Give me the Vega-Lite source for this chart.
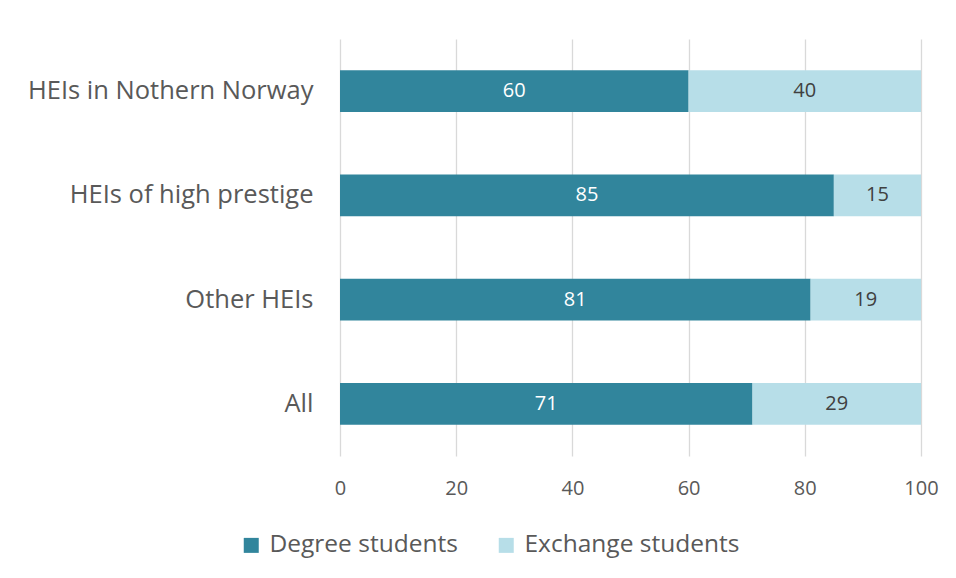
{
  "$schema": "https://vega.github.io/schema/vega-lite/v6.json",
  "width": 581,
  "height": 417,
  "autosize": {"type": "none"},
  "padding": {"left": 340, "top": 39, "right": 35, "bottom": 122},
  "background": "white",
  "config": {
    "font": "Open Sans",
    "view": {"stroke": null},
    "axis": {"labelColor": "#595959", "labelFont": "Open Sans"},
    "legend": {"labelColor": "#595959", "labelFont": "Open Sans"}
  },
  "data": {
    "values": [
      {"group": "HEIs in Nothern Norway", "type": "Degree students", "value": 60},
      {"group": "HEIs in Nothern Norway", "type": "Exchange students", "value": 40},
      {"group": "HEIs of high prestige", "type": "Degree students", "value": 85},
      {"group": "HEIs of high prestige", "type": "Exchange students", "value": 15},
      {"group": "Other  HEIs", "type": "Degree students", "value": 81},
      {"group": "Other  HEIs", "type": "Exchange students", "value": 19},
      {"group": "All", "type": "Degree students", "value": 71},
      {"group": "All", "type": "Exchange students", "value": 29}
    ]
  },
  "transform": [
    {"stack": "value", "groupby": ["group"], "sort": [{"field": "type", "order": "ascending"}], "as": ["v0", "v1"]},
    {"calculate": "(datum.v0 + datum.v1) / 2", "as": "mid"}
  ],
  "encoding": {
    "y": {
      "field": "group",
      "type": "nominal",
      "sort": ["HEIs in Nothern Norway", "HEIs of high prestige", "Other  HEIs", "All"],
      "scale": {"paddingInner": 0.6, "paddingOuter": 0.3},
      "axis": {"title": null, "ticks": false, "domain": false, "labelFontSize": 25.5, "labelPadding": 27, "labelLimit": 400}
    }
  },
  "layer": [
    {
      "mark": {"type": "bar"},
      "encoding": {
        "x": {
          "field": "v0",
          "type": "quantitative",
          "scale": {"domain": [0, 100], "nice": false},
          "axis": {"title": null, "values": [0, 20, 40, 60, 80, 100], "grid": true, "gridColor": "#D9D9D9", "gridWidth": 1.3, "ticks": false, "domain": false, "labelFontSize": 20, "labelPadding": 22, "labelFlush": false}
        },
        "x2": {"field": "v1"},
        "color": {
          "field": "type",
          "type": "nominal",
          "scale": {"domain": ["Degree students", "Exchange students"], "range": ["#31859C", "#B7DEE8"]},
          "legend": {
            "title": null,
            "orient": "none",
            "direction": "horizontal",
            "legendX": -101,
            "legendY": 494,
            "symbolType": "square",
            "symbolSize": 225,
            "symbolStrokeWidth": 0,
            "symbolOpacity": 1,
            "labelFontSize": 24.5,
            "labelOffset": 6,
            "labelLimit": 400,
            "columnPadding": 36
          }
        }
      }
    },
    {
      "mark": {"type": "text", "fontSize": 20, "baseline": "middle", "align": "center"},
      "encoding": {
        "x": {"field": "mid", "type": "quantitative"},
        "text": {"field": "value", "type": "quantitative"},
        "color": {
          "condition": {"test": "datum.type === 'Degree students'", "value": "#FFFFFF"},
          "value": "#404040"
        }
      }
    }
  ]
}
